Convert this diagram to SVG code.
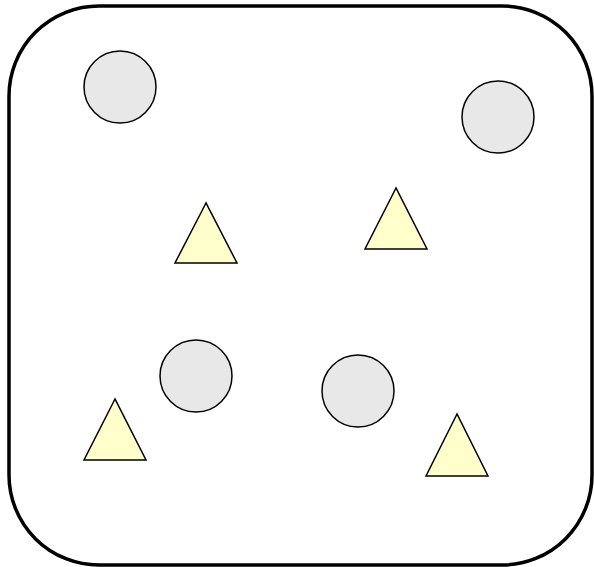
<svg xmlns="http://www.w3.org/2000/svg" width="594" height="567" viewBox="0 0 594 567">
<style>
.c{fill:#e8e8e8;stroke:#000;stroke-width:1.5}
.t{fill:#ffffcc;stroke:#000;stroke-width:1.5;stroke-linejoin:miter}
</style>
<rect width="594" height="567" fill="#fff"/>
<g id="frame"><rect x="9" y="6" width="583" height="559" rx="90" ry="90" fill="#fff" stroke="#000" stroke-width="3.5"/></g>
<g id="circle1"><circle class="c" cx="120" cy="87" r="36"/></g>
<g id="circle2"><circle class="c" cx="498" cy="117" r="36"/></g>
<g id="circle3"><circle class="c" cx="196" cy="376" r="36"/></g>
<g id="circle4"><circle class="c" cx="358" cy="391" r="36"/></g>
<g id="tri1"><polygon class="t" points="206,203 175,263 237,263"/></g>
<g id="tri2"><polygon class="t" points="396,188 365,249 427,249"/></g>
<g id="tri3"><polygon class="t" points="115,399 84,460 146,460"/></g>
<g id="tri4"><polygon class="t" points="457,414 426,476 488,476"/></g>
<g id="connectors"></g>
</svg>
